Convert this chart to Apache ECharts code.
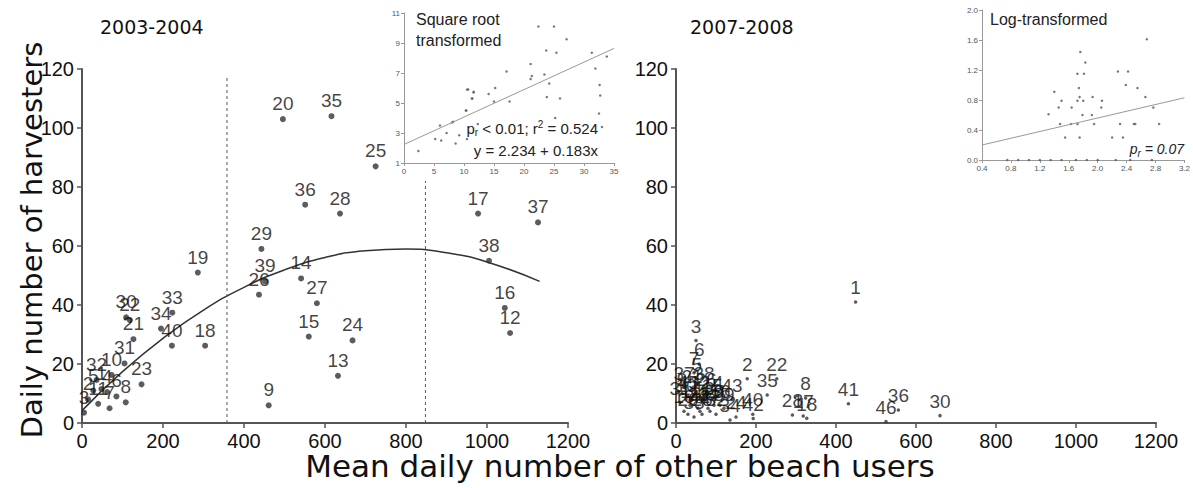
<!DOCTYPE html>
<html><head><meta charset="utf-8">
<script src="https://cdn.jsdelivr.net/npm/echarts@6/dist/echarts.min.js"></script>
<style>html,body{margin:0;padding:0;background:#fff}#c{width:1193px;height:488px}</style>
</head><body><div id="c"></div>
<script>
// ---- 2003-2004 main panel ----
const ids2003   = [20,35,25,36,28,17,37,29,38,19,14,39,26,27,16,33,30,22,34,12,15,21,24,40,18,31,10,13,32,23,5,1,4,6,8,7,9,3,2,11];
const users2003 = [496,616,725,551,637,978,1126,443,1005,286,541,452,437,580,1044,223,109,118,195,1057,560,127,668,222,304,105,73,632,36,147,28,48,62,85,108,68,461,5,15,40];
const harv2003  = [103,104,87,74,71,71,68,59,55,51,49,48,43.5,40.6,39,37.4,35.8,34.9,32,30.5,29.3,28.4,28,26.2,26.2,20.2,16.3,16,14.6,13.1,11,11.5,10.5,9,7,5,6,3.5,8,6.5];
// fitted quadratic curve
const curveX = [0,100,200,300,400,500,600,700,800,900,1000,1130];
const curveY = [4.2,17.4,28.7,38.3,46.0,51.9,56.1,58.4,59.0,57.7,54.6,48.0];
// dashed reference lines (x position, top value)
const dashX = [358,848];
const dashTop = [117,82];

// ---- 2007-2008 main panel ----
const ids2007   = [1,3,6,7,5,2,22,35,8,41,36,46,30,28,17,18,40,42,24,34,16,9,10,11,12,13,14,15,19,20,21,23,25,26,27,29,31,32,33,37,38,39,4,43,44,45];
const users2007 = [449,50,58,45,52,178,252,228,324,431,556,525,660,291,318,327,192,193,150,135,110,15,25,35,60,70,80,90,20,30,40,55,65,75,85,95,10,100,45,20,70,120,105,140,60,30];
const harv2007  = [41,28,20,17,15,15,15,9.5,8.5,6.5,4.4,0.5,2.5,2.7,2.4,1.6,3,1.5,2,1,6,10,8,6,9,7,5,8,4,3,11,5,3,10,4,6,7,3,2,12,12,5,9,8,4,9];

// ---- inset: square root transformed (2003-2004) ----
const sqrtX = [2.4,5.2,6.2,6,7.1,8,8.6,9.2,10.3,10.5,11.6,11.3,10.5,12.3,22.4,25,27.1,23.7,25.4,31.3,33.8,21.1,17.1,21.3,21.1,23.4,31.9,24.2,32.6,32.7,10.7,11.6,14.1,15.2,11.4,15,17.6,23.8,26,10.4,25.2,8.2,32.5,33];
const sqrtY = [1.8,2.6,2.5,3.5,3.0,3.7,2.3,2.85,4.5,5.9,5.7,5.3,2.6,3.6,10.1,10.1,9.25,8.5,8.35,8.35,8.1,7.6,7.1,6.8,6.6,6.9,7.3,6.3,6.2,5.5,5.9,5.75,5.6,6.0,5.3,5.1,5.1,5.4,5.3,4.5,4.0,3.75,4.3,3.4];
const sqrtFitX = [0,35];
const sqrtFitY = [2.234,8.639];

// ---- inset: log transformed (2007-2008) ----
const logX = [2.68,1.76,1.83,1.72,1.81,2.28,2.42,1.74,2.39,2.55,1.40,1.75,1.93,2.66,1.50,1.72,1.80,2.06,1.46,1.64,2.05,2.77,1.32,1.79,1.92,1.48,1.63,1.72,1.95,2.31,2.50,2.52,2.85,0.75,0.9,1.05,1.2,1.35,1.5,1.7,1.85,2.0,2.25,2.45,2.75,1.55,1.75,2.2,2.35];
const logY = [1.61,1.44,1.30,1.15,1.15,1.18,1.18,0.96,1.0,0.96,0.91,0.84,0.84,0.84,0.79,0.79,0.79,0.79,0.70,0.70,0.70,0.70,0.61,0.60,0.60,0.48,0.48,0.48,0.48,0.48,0.48,0.48,0.48,0,0,0,0,0,0,0,0,0,0,0,0,0.3,0.3,0.3,0.3];
const logFitX = [0.4,3.2];
const logFitY = [0.2,0.83];

const mainTicks = {fontFamily:'Liberation Sans', fontSize:20, color:'#111', formatter:v=>String(v)};
const axisCol = '#555';
function mainX(gi){return {gridIndex:gi,type:'value',min:0,max:1200,interval:200,
  axisLine:{show:true,onZero:false,lineStyle:{color:axisCol,width:2}},axisTick:{show:true,length:5,lineStyle:{color:axisCol,width:1.5}},
  axisLabel:Object.assign({margin:8},mainTicks),splitLine:{show:false}};}
function mainY(gi){return {gridIndex:gi,type:'value',min:0,max:120,interval:20,
  axisLine:{show:true,onZero:false,lineStyle:{color:axisCol,width:2}},axisTick:{show:true,length:5,lineStyle:{color:axisCol,width:1.5}},
  axisLabel:Object.assign({margin:8},mainTicks),splitLine:{show:false}};}
const insetLab = {fontFamily:'Liberation Sans', fontSize:8, color:'#555', margin:4};
function insetAxis(gi,min,max,itv,dec){return {gridIndex:gi,type:'value',min:min,max:max,interval:itv,
  axisLine:{show:true,onZero:false,lineStyle:{color:'#999',width:1}},axisTick:{show:true,length:3,lineStyle:{color:'#999'}},
  axisLabel:Object.assign({formatter:v=>dec?v.toFixed(1):String(Math.round(v))},insetLab),splitLine:{show:false}};}

const zip = (a,b)=>a.map((v,i)=>[v,b[i]]);
const labelled = (ids,xs,ys)=>ids.map((id,i)=>({name:String(id),value:[xs[i],ys[i]]}));

const chart = echarts.init(document.getElementById('c'),null,{renderer:'svg'});
chart.setOption({
  animation:false,
  backgroundColor:'#fff',
  grid:[
    {left:82,top:69,width:486,height:354},
    {left:676,top:69,width:480,height:354},
    {left:404,top:13,width:210,height:150},
    {left:982,top:10,width:204,height:150}
  ],
  xAxis:[mainX(0),mainX(1),insetAxis(2,0,35,5,false),insetAxis(3,0.4,3.2,0.4,true)],
  yAxis:[mainY(0),mainY(1),insetAxis(2,1,11,2,false),insetAxis(3,0,2.0,0.4,true)],
  series:[
    {type:'line',xAxisIndex:0,yAxisIndex:0,data:zip(curveX,curveY),smooth:true,showSymbol:false,
      lineStyle:{color:'#333',width:1.5},z:2},
    {type:'line',xAxisIndex:0,yAxisIndex:0,data:[[dashX[0],0],[dashX[0],dashTop[0]]],showSymbol:false,
      lineStyle:{color:'#555',width:1,type:[3,3]}},
    {type:'line',xAxisIndex:0,yAxisIndex:0,data:[[dashX[1],0],[dashX[1],dashTop[1]]],showSymbol:false,
      lineStyle:{color:'#555',width:1,type:[3,3]}},
    {type:'scatter',xAxisIndex:0,yAxisIndex:0,data:labelled(ids2003,users2003,harv2003),symbolSize:6,
      itemStyle:{color:'#333'},z:3,
      label:{show:true,position:'top',distance:3,formatter:'{b}',fontFamily:'Liberation Sans',fontSize:19,color:'#111'},
      labelLayout:{hideOverlap:false}},
    {type:'scatter',xAxisIndex:1,yAxisIndex:1,data:labelled(ids2007,users2007,harv2007),symbolSize:3.5,
      itemStyle:{color:'#333'},z:3,
      label:{show:true,position:'top',distance:3,formatter:'{b}',fontFamily:'Liberation Sans',fontSize:19,color:'#111'}},
    {type:'scatter',xAxisIndex:2,yAxisIndex:2,data:zip(sqrtX,sqrtY),symbolSize:2.5,itemStyle:{color:'#555'}},
    {type:'line',xAxisIndex:2,yAxisIndex:2,data:zip(sqrtFitX,sqrtFitY),showSymbol:false,lineStyle:{color:'#999',width:1}},
    {type:'scatter',xAxisIndex:3,yAxisIndex:3,data:zip(logX,logY),symbolSize:2.5,itemStyle:{color:'#555'}},
    {type:'line',xAxisIndex:3,yAxisIndex:3,data:zip(logFitX,logFitY),showSymbol:false,lineStyle:{color:'#999',width:1}}
  ],
  graphic:[
    {type:'text',left:100,top:17,style:{text:'2003-2004',font:'19px "DejaVu Sans"',fill:'#111'}},
    {type:'text',left:690,top:17,style:{text:'2007-2008',font:'19px "DejaVu Sans"',fill:'#111'}},
    {type:'text',x:32,y:240,rotation:Math.PI/2,style:{text:'Daily number of harvesters',font:'29px "DejaVu Sans"',fill:'#111',align:'center',verticalAlign:'middle'}},
    {type:'text',x:620,y:466,style:{text:'Mean daily number of other beach users',font:'31px "DejaVu Sans"',fill:'#111',align:'center',verticalAlign:'middle'}},
    {type:'text',left:416,top:9,style:{text:'Square root\ntransformed',font:'16px "Liberation Sans"',lineHeight:21,fill:'#222'}},
    {type:'text',x:598,y:128,style:{align:'right',verticalAlign:'middle',
      text:'{n|p}{s|r}{n| < 0.01; r}{p|2}{n| = 0.524}',
      rich:{n:{fontFamily:'Liberation Sans',fontSize:15,fill:'#222',lineHeight:18},
            s:{fontFamily:'Liberation Sans',fontSize:10,fill:'#222',lineHeight:18,verticalAlign:'bottom'},
            p:{fontFamily:'Liberation Sans',fontSize:10,fill:'#222',lineHeight:18,verticalAlign:'top'}}}},
    {type:'text',x:598,y:150,style:{align:'right',verticalAlign:'middle',text:'y = 2.234 + 0.183x',font:'15px "Liberation Sans"',fill:'#222'}},
    {type:'text',left:990,top:11,style:{text:'Log-transformed',font:'16px "Liberation Sans"',fill:'#222'}},
    {type:'text',x:1184,y:149,style:{align:'right',verticalAlign:'middle',
      text:'{n|p}{s|r}{n| = 0.07}',
      rich:{n:{fontFamily:'Liberation Sans',fontSize:14,fontStyle:'italic',fill:'#222',lineHeight:18},
            s:{fontFamily:'Liberation Sans',fontSize:10,fontStyle:'italic',fill:'#222',lineHeight:18,verticalAlign:'bottom'}}}}
  ]
});
</script></body></html>
